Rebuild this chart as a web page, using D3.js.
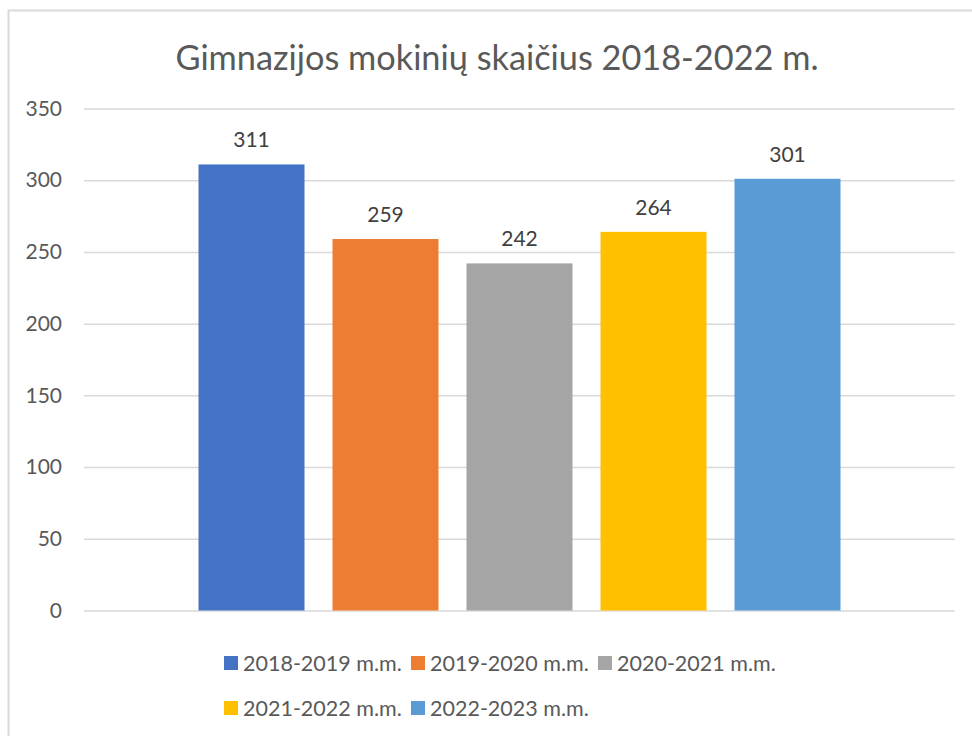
<!DOCTYPE html>
<html>
<head>
<meta charset="utf-8">
<script src="https://cdn.jsdelivr.net/npm/d3@7"></script>
<style>
  body { margin: 0; background: #fff; }
  text { font-family: Lato, "Open Sans", sans-serif; }
</style>
</head>
<body>
<div id="chart"></div>
<script>
var seriesNames = ['2018-2019 m.m.', '2019-2020 m.m.', '2020-2021 m.m.', '2021-2022 m.m.', '2022-2023 m.m.'];
var values = [311, 259, 242, 264, 301];
var colors = ['#4472c4', '#ed7d31', '#a5a5a5', '#ffc000', '#5b9bd5'];
var yTicks = [0, 50, 100, 150, 200, 250, 300, 350];
var title = 'Gimnazijos mokinių skaičius 2018-2022 m.';

var w = 972, h = 736;
var plot = { left: 84, right: 955, top: 108.5, bottom: 610.5 };

var svg = d3.select('#chart').append('svg')
  .attr('width', w)
  .attr('height', h);

// chart frame
svg.append('rect')
  .attr('x', 8.5).attr('y', 10.5)
  .attr('width', 980).attr('height', 740)
  .attr('fill', '#fff')
  .attr('stroke', '#d9d9d9')
  .attr('stroke-width', 2);

svg.append('text')
  .attr('x', 497)
  .attr('y', 70)
  .attr('text-anchor', 'middle')
  .attr('font-size', 34.3)
  .attr('fill', '#595959')
  .text(title);

var y = d3.scaleLinear().domain([0, 350]).range([plot.bottom, plot.top]);

// one category, bars for each series
var groupPad = 114.5;
var x = d3.scaleBand()
  .domain(seriesNames)
  .range([plot.left + groupPad, plot.right - groupPad])
  .paddingInner(28 / 134)
  .paddingOuter(0);

var yAxis = d3.axisLeft(y)
  .tickValues(yTicks)
  .tickSize(-(plot.right - plot.left))
  .tickPadding(22);

var gy = svg.append('g')
  .attr('transform', 'translate(' + plot.left + ',0)')
  .call(yAxis);
gy.select('.domain').remove();
gy.selectAll('.tick line')
  .attr('stroke', '#d9d9d9')
  .attr('stroke-width', 1.5);
gy.selectAll('.tick text')
  .attr('font-size', 21)
  .attr('fill', '#595959')
  .attr('font-family', 'Lato, sans-serif');

svg.selectAll('rect.bar')
  .data(values)
  .enter().append('rect')
  .attr('class', 'bar')
  .attr('x', function(d, i) { return x(seriesNames[i]); })
  .attr('y', function(d) { return y(d); })
  .attr('width', x.bandwidth())
  .attr('height', function(d) { return y(0) - y(d); })
  .attr('fill', function(d, i) { return colors[i]; });

svg.selectAll('text.val')
  .data(values)
  .enter().append('text')
  .attr('class', 'val')
  .attr('x', function(d, i) { return x(seriesNames[i]) + x.bandwidth() / 2; })
  .attr('y', function(d) { return y(d) - 17; })
  .attr('text-anchor', 'middle')
  .attr('font-size', 21)
  .attr('fill', '#404040')
  .text(function(d) { return d; });

// legend, two rows
var legendRows = [[0, 1, 2], [3, 4]];
var legendX = 224, legendStep = 187;
var legendY = [663, 708];
legendRows.forEach(function(row, r) {
  row.forEach(function(idx, k) {
    var g = svg.append('g')
      .attr('transform', 'translate(' + (legendX + k * legendStep) + ',' + legendY[r] + ')');
    g.append('rect')
      .attr('x', 0).attr('y', -7)
      .attr('width', 14).attr('height', 14)
      .attr('fill', colors[idx]);
    g.append('text')
      .attr('x', 19)
      .attr('y', 0)
      .attr('dy', '0.35em')
      .attr('font-size', 21.5)
      .attr('fill', '#595959')
      .text(seriesNames[idx]);
  });
});
</script>
</body>
</html>
